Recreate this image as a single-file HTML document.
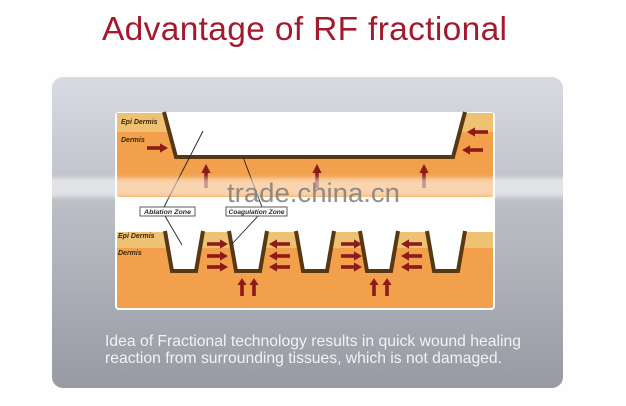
<!DOCTYPE html>
<html>
<head>
<meta charset="utf-8">
<style>
html,body{margin:0;padding:0;background:#fefefe;}
svg{display:block;}
text{font-family:"Liberation Sans",Arial,sans-serif;}
</style>
</head>
<body>
<svg width="626" height="406" viewBox="0 0 626 406" xmlns="http://www.w3.org/2000/svg">
<defs>
  <linearGradient id="pg" x1="0" y1="0" x2="0" y2="1">
    <stop offset="0" stop-color="#d8dbe1"/>
    <stop offset="0.45" stop-color="#b9bcc3"/>
    <stop offset="1" stop-color="#979aa2"/>
  </linearGradient>
  <filter id="bl" x="-5%" y="-50%" width="110%" height="200%">
    <feGaussianBlur stdDeviation="2.5"/>
  </filter>
  <g id="ar">
    <!-- right-pointing arrow, length 21, origin at tail center -->
    <rect x="0" y="-1.8" width="14" height="3.6"/>
    <polygon points="13,-4.6 21,0 13,4.6"/>
  </g>
</defs>

<rect width="626" height="406" fill="#fefefe"/>

<!-- title -->
<text x="102" y="40" font-size="33.5" fill="#a31a2f" textLength="405" lengthAdjust="spacing">Advantage of RF fractional</text>

<!-- grey panel -->
<rect x="52" y="77" width="511" height="311" rx="11" fill="url(#pg)"/>

<!-- white diagram box -->
<rect x="115" y="112" width="380" height="198" rx="4" fill="#ffffff"/>

<!-- TOP DIAGRAM -->
<rect x="117" y="113" width="376" height="84" rx="2" fill="#f2a04c"/>
<rect x="117" y="113" width="376" height="19" fill="#eec272"/>
<polygon points="164,112 176,157 453,157 465,112" fill="#ffffff"/>
<polyline points="164,112 176,157 453,157 465,112" fill="none" stroke="#563912" stroke-width="4" stroke-linejoin="miter"/>

<text x="121" y="124" font-size="7" font-weight="bold" font-style="italic" fill="#3a2608">Epi Dermis</text>
<text x="121" y="142" font-size="7" font-weight="bold" font-style="italic" fill="#3a2608">Dermis</text>

<g fill="#8c1b1a">
  <use href="#ar" transform="translate(147,148)"/>
  <use href="#ar" transform="translate(488,132) scale(-1,1)"/>
  <use href="#ar" transform="translate(483,150) scale(-1,1)"/>
  <use href="#ar" transform="translate(206,188) rotate(-90) scale(1.15,1)"/>
  <use href="#ar" transform="translate(317,188) rotate(-90) scale(1.15,1)"/>
  <use href="#ar" transform="translate(424,188) rotate(-90) scale(1.15,1)"/>
</g>

<!-- BOTTOM DIAGRAM -->
<rect x="117" y="232" width="376" height="76" rx="2" fill="#f2a04c"/>
<rect x="117" y="232" width="376" height="16" fill="#eec272"/>
<g fill="#ffffff" stroke="none">
  <polygon points="165,230 172,271 196,271 203,230"/>
  <polygon points="229,230 236,271 260,271 267,230"/>
  <polygon points="296,230 303,271 327,271 334,230"/>
  <polygon points="360,230 367,271 391,271 398,230"/>
  <polygon points="427,230 434,271 458,271 465,230"/>
</g>
<g fill="none" stroke="#563912" stroke-width="4" stroke-linejoin="miter">
  <polyline points="165,231 172,271 196,271 203,231"/>
  <polyline points="229,231 236,271 260,271 267,231"/>
  <polyline points="296,231 303,271 327,271 334,231"/>
  <polyline points="360,231 367,271 391,271 398,231"/>
  <polyline points="427,231 434,271 458,271 465,231"/>
</g>
<rect x="117" y="226" width="376" height="4" fill="#ffffff"/>

<text x="118" y="238" font-size="7" font-weight="bold" font-style="italic" fill="#3a2608">Epi Dermis</text>
<text x="118" y="255" font-size="7" font-weight="bold" font-style="italic" fill="#3a2608">Dermis</text>

<g fill="#8c1b1a">
  <use href="#ar" transform="translate(207,244)"/>
  <use href="#ar" transform="translate(207,256)"/>
  <use href="#ar" transform="translate(207,267)"/>
  <use href="#ar" transform="translate(290,244) scale(-1,1)"/>
  <use href="#ar" transform="translate(290,256) scale(-1,1)"/>
  <use href="#ar" transform="translate(290,267) scale(-1,1)"/>
  <use href="#ar" transform="translate(341,244)"/>
  <use href="#ar" transform="translate(341,256)"/>
  <use href="#ar" transform="translate(341,267)"/>
  <use href="#ar" transform="translate(422,244) scale(-1,1)"/>
  <use href="#ar" transform="translate(422,256) scale(-1,1)"/>
  <use href="#ar" transform="translate(422,267) scale(-1,1)"/>
  <use href="#ar" transform="translate(242,296) rotate(-90) scale(0.85,1)"/>
  <use href="#ar" transform="translate(254,296) rotate(-90) scale(0.85,1)"/>
  <use href="#ar" transform="translate(374,296) rotate(-90) scale(0.85,1)"/>
  <use href="#ar" transform="translate(387,296) rotate(-90) scale(0.85,1)"/>
</g>

<!-- leader lines -->
<g stroke="#222" stroke-width="0.9" fill="none">
  <line x1="203" y1="131" x2="164" y2="207"/>
  <line x1="243" y1="157" x2="262" y2="207"/>
  <line x1="165" y1="216" x2="182" y2="245"/>
  <line x1="258" y1="216" x2="232" y2="244"/>
</g>

<!-- labels -->
<rect x="140" y="207" width="55" height="9" fill="#ffffff" stroke="#4a4a4a" stroke-width="0.9"/>
<text x="167.5" y="214" font-size="6.8" font-weight="bold" font-style="italic" fill="#2a2a2a" text-anchor="middle" textLength="47" lengthAdjust="spacingAndGlyphs">Ablation Zone</text>
<rect x="226" y="207" width="61" height="9" fill="#ffffff" stroke="#4a4a4a" stroke-width="0.9"/>
<text x="256.5" y="214" font-size="6.8" font-weight="bold" font-style="italic" fill="#2a2a2a" text-anchor="middle" textLength="56" lengthAdjust="spacingAndGlyphs">Coagulation Zone</text>

<!-- watermark band -->
<rect x="46" y="178" width="524" height="19" fill="#ffffff" opacity="0.55" filter="url(#bl)"/>
<text x="227" y="202" font-size="27" fill="#7d7d7d" opacity="0.85" textLength="173" lengthAdjust="spacingAndGlyphs">trade.china.cn</text>

<!-- caption -->
<text x="105" y="346" font-size="15.7" fill="#f1f2f5" textLength="416" lengthAdjust="spacing">Idea of Fractional technology results in quick wound healing</text>
<text x="105" y="363" font-size="15.7" fill="#f1f2f5" textLength="397" lengthAdjust="spacing">reaction from surrounding tissues, which is not damaged.</text>
</svg>
</body>
</html>
